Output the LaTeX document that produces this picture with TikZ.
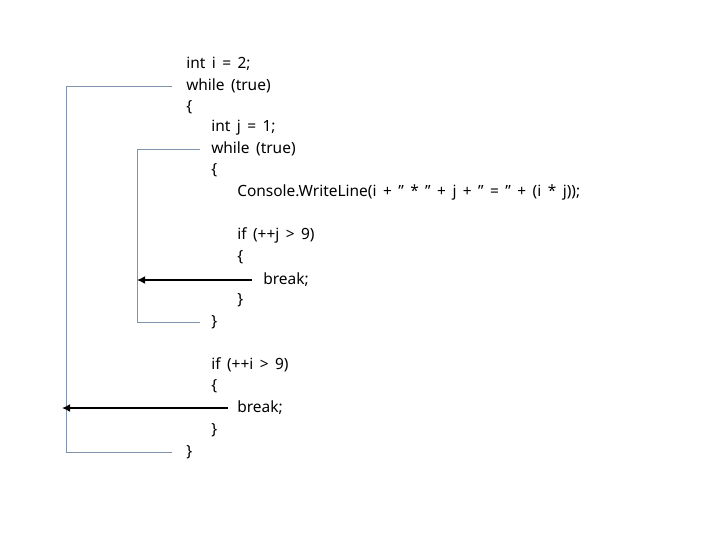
\documentclass[tikz,border=0pt]{standalone}
\usepackage{fontspec}
\usetikzlibrary{arrows.meta}
\setmainfont[WordSpace={1.6}]{Noto Sans}
\definecolor{brc}{HTML}{7F93AD}
\newcommand{\qq}{\char34}
\begin{document}
\begin{tikzpicture}[x=0.75pt,y=-0.75pt,
  code/.style={anchor=west,inner sep=0pt,font=\fontsize{11.6}{13}\selectfont},
  brk/.style={draw=brc,line width=0.7pt},
  jump/.style={draw=black,line width=1.8pt,-{Latex[length=6pt,width=6pt]}}]
\useasboundingbox (0,0) rectangle (720,540);
\node[code] (l1) at (186,64) {int i = 2;};
\node[code] (l2) at (186,86) {while (true)};
\node[code] (l3) at (186,107) {\{};
\node[code] (l4) at (211,128) {int j = 1;};
\node[code] (l5) at (211,149) {while (true)};
\node[code] (l6) at (211,170) {\{};
\node[code] (l7) at (237,192) {Console.WriteLine(i + \qq{} * \qq{} + j + \qq{} = \qq{} + (i * j));};
\node[code] (l8) at (237,235) {if (++j > 9)};
\node[code] (l9) at (237,257) {\{};
\node[code] (l10) at (263,280) {break;};
\node[code] (l11) at (237,300) {\}};
\node[code] (l12) at (211,322) {\}};
\node[code] (l13) at (211,365) {if (++i > 9)};
\node[code] (l14) at (211,386) {\{};
\node[code] (l15) at (237,408) {break;};
\node[code] (l16) at (211,430) {\}};
\node[code] (l17) at (186,452) {\}};
\coordinate (oa) at (172,86); \coordinate (ob) at (172,452);
\coordinate (ia) at (200,149); \coordinate (ib) at (200,322);
\draw[brk] (oa) -- (66,86) -- (66,452) -- (ob);
\draw[brk] (ia) -- (137,149) -- (137,322) -- (ib);
\coordinate (j1) at (137,280); \coordinate (j2) at (62,408);
\draw[jump] (252,280) -- (j1);
\draw[jump] (228,408) -- (j2);
\end{tikzpicture}
\end{document}
